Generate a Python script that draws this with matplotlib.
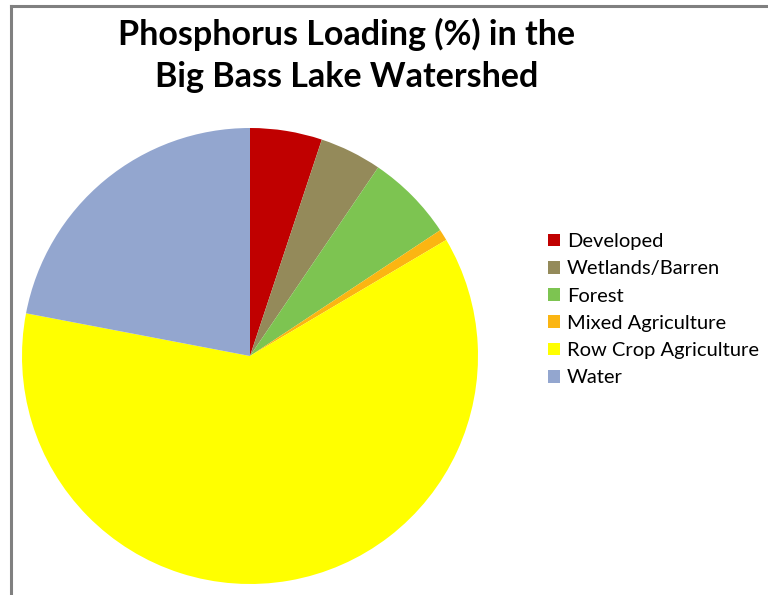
import matplotlib
matplotlib.use("Agg")
import matplotlib.pyplot as plt
from matplotlib.lines import Line2D
from matplotlib.patches import Patch

categories = ["Developed", "Wetlands/Barren", "Forest", "Mixed Agriculture",
              "Row Crop Agriculture", "Water"]
values = [5.1, 4.4, 6.2, 0.8, 61.5, 22.0]
colors = ["#C00000", "#948A5A", "#7DC451", "#FBB512", "#FFFF00", "#93A6CF"]

W, H = 768, 595
fig = plt.figure(figsize=(W / 100, H / 100), dpi=100)
fig.patch.set_facecolor("white")

# frame lines (left and top)
fig.add_artist(Line2D([10.5 / W, 10.5 / W], [0, 1 - 5.5 / H], color="#808080", lw=2.2))
fig.add_artist(Line2D([10.5 / W, 1], [1 - 5.5 / H, 1 - 5.5 / H], color="#808080", lw=2.2))

cx, cy, r = 250, 356, 228
ax = fig.add_axes([(cx - r) / W, (H - cy - r) / H, 2 * r / W, 2 * r / H])
ax.pie(values, colors=colors, startangle=90, counterclock=False,
       wedgeprops=dict(linewidth=0), radius=1.0)
ax.set_xlim(-1, 1)
ax.set_ylim(-1, 1)
ax.set_aspect("equal")
ax.axis("off")

fig.text(347 / W, 1 - 34 / H, "Phosphorus Loading (%) in the", ha="center", va="center",
         fontsize=24.5, fontweight="bold", family="Lato")
fig.text(347 / W, 1 - 77 / H, "Big Bass Lake Watershed", ha="center", va="center",
         fontsize=24.5, fontweight="bold", family="Lato")

handles = [Patch(facecolor=c, edgecolor="none") for c in colors]
fig.legend(handles, categories, loc="upper left", bbox_to_anchor=(548 / W, 1 - 233 / H),
           frameon=False, prop=dict(family="Lato", size=14.5), handlelength=0.6,
           handleheight=0.6, handletextpad=0.35, labelspacing=0.51, borderpad=0,
           borderaxespad=0)

fig.savefig("out.png", dpi=100, facecolor="white")
